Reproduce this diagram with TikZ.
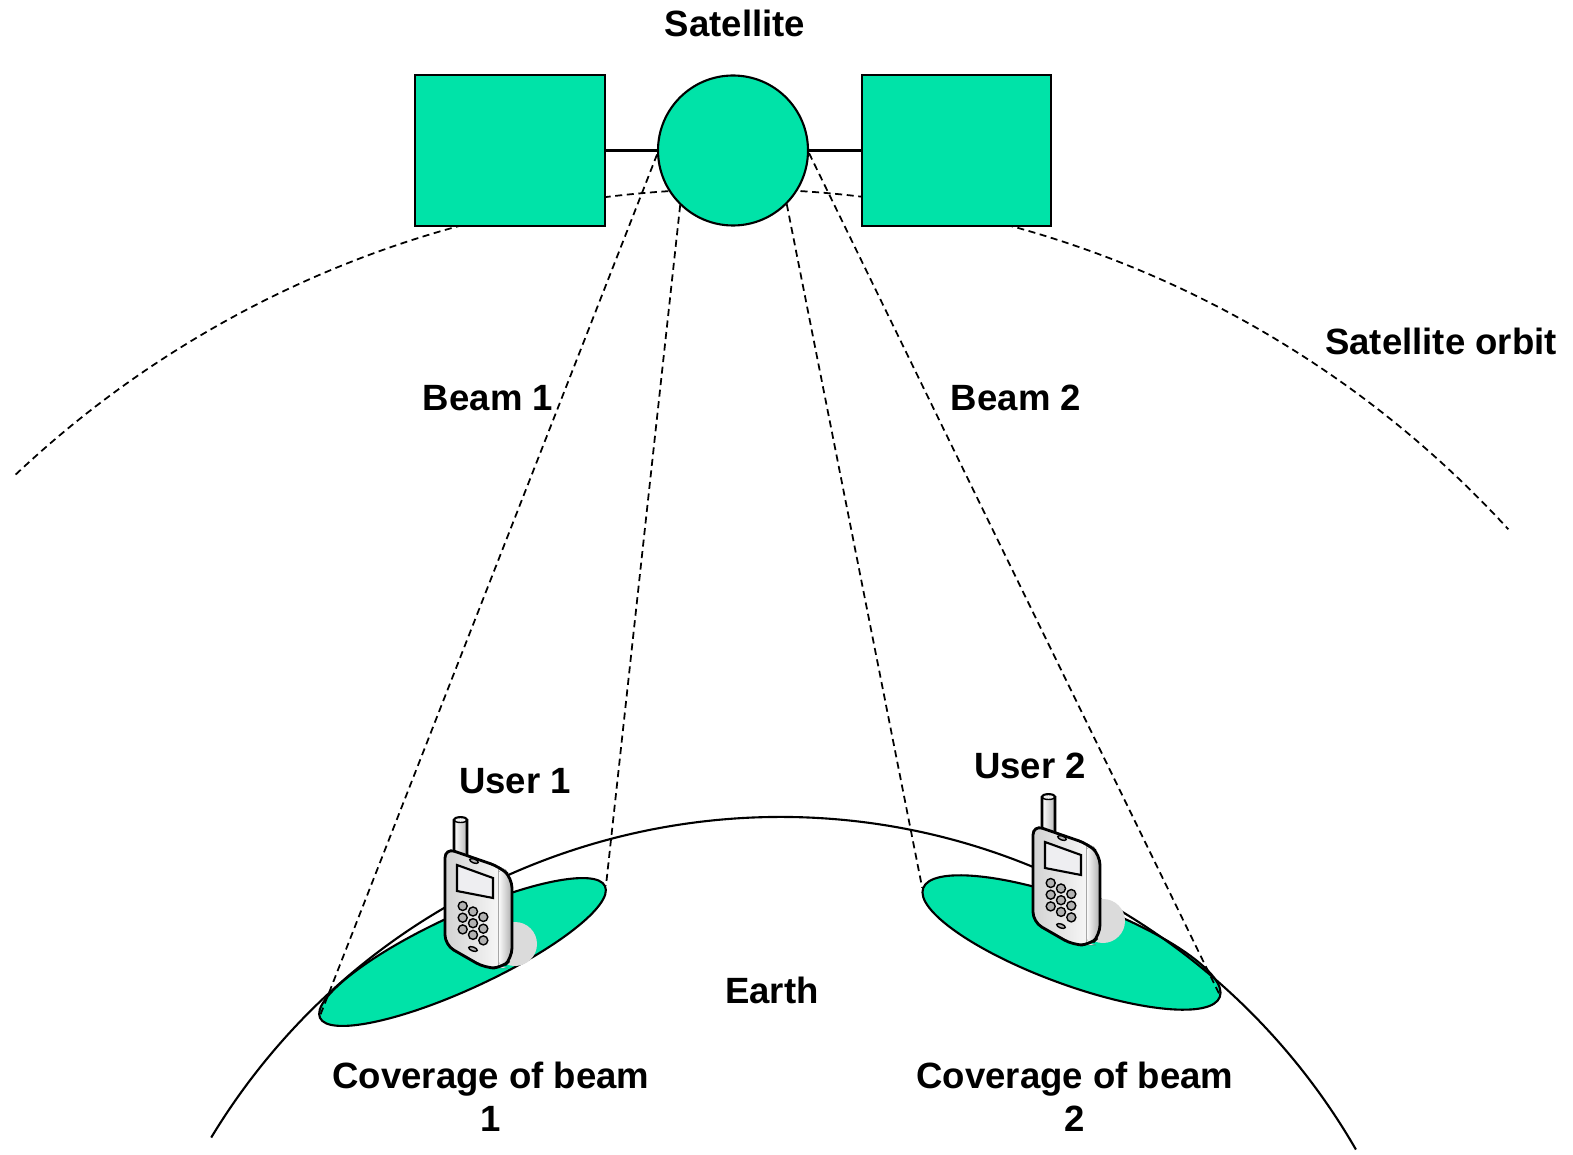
\documentclass[tikz,border=0pt]{standalone}
\usepackage{fontspec}
\setmainfont{Liberation Sans}
\usepackage{tikz}
\usetikzlibrary{
    positioning,
    shapes.geometric,
}
\definecolor{satgreen}{HTML}{00E3A8}
\tikzset{
    % Satellite parts
    panel/.style={rectangle, draw, semithick, fill=satgreen, minimum width=1.9cm,
                  minimum height=1.51cm, inner sep=0pt},
    satbody/.style={circle, draw, semithick, fill=satgreen, minimum size=1.5cm, inner sep=0pt},
    coverage/.style={ellipse, draw, semithick, fill=satgreen, inner sep=0pt},
    % Line styles
    beam line/.style={line width=0.5pt, dash pattern=on 2pt off 1.3pt},
    orbit line/.style={beam line},
    mount/.style={line width=0.9pt},
    % Labels
    lbl/.style={font=\fontsize{10.4}{12.2}\selectfont\bfseries, align=center, inner sep=0pt},
    % Handset
    phone/.pic={
        \fill[gray!28] (0.35,-0.44) circle (0.22);
        % antenna
        \draw[thick, left color=white, right color=gray!55]
            (-0.26,0.40) -- (-0.26,0.80) arc[start angle=180, end angle=0, x radius=0.065, y radius=0.025]
            -- (-0.13,0.40);
        \draw[thin, fill=gray!10] (-0.195,0.80) ellipse[x radius=0.065, y radius=0.025];
        % case
        \path[rounded corners=0.1cm, left color=gray!35, right color=white]
            (-0.35,-0.45) -- (-0.35,0.52) -- (0.20,0.33) -- (0.32,0.22) -- (0.32,-0.58)
            -- (0.22,-0.68) -- (0.05,-0.68) -- cycle;
        \fill[rounded corners=0.1cm, left color=white, right color=gray!65]
            (0.18,0.34) -- (0.20,0.33) -- (0.32,0.22) -- (0.32,-0.58) -- (0.22,-0.68) -- (0.18,-0.68) -- cycle;
        \draw[gray!70, very thin] (0.18,0.33) -- (0.18,-0.66);
        \draw[thick, rounded corners=0.1cm]
            (-0.35,-0.45) -- (-0.35,0.52) -- (0.20,0.33) -- (0.32,0.22) -- (0.32,-0.58)
            -- (0.22,-0.68) -- (0.05,-0.68) -- cycle;
        % display and keys
        \draw[semithick, fill=blue!8!gray!12] (-0.23,0.35) -- (0.13,0.22) -- (0.13,0.02) -- (-0.23,0.09) -- cycle;
        \draw[thin, fill=gray!60, rotate around={-20:(-0.06,0.39)}] (-0.06,0.39) ellipse[x radius=0.045, y radius=0.02];
        \foreach \c in {0,1,2} {
            \foreach \r in {0,1,2} {
                \draw[thin, fill=gray!60] ({-0.173+0.103*\c},{-0.06-0.055*\c-0.117*\r}) circle (0.045);
            }
        }
        \draw[thin, fill=gray!60, rotate around={-20:(-0.07,-0.49)}] (-0.07,-0.49) ellipse[x radius=0.045, y radius=0.02];
    },
}

\begin{document}
\begin{tikzpicture}
    \useasboundingbox (0,0) rectangle (15.73,-11.55);

    % Orbit
    \coordinate (orbit) at (7.35,-12.38);
    \coordinate (earth) at (7.80,-14.82);
    \draw[orbit line] (orbit) ++(133.3:10.49) arc[start angle=133.3, end angle=42.5, radius=10.49];

    % Footprints on the ground
    \node[coverage, rotate=24.8, minimum width=3.14cm, minimum height=0.74cm] (cov1) at (4.625,-9.52) {};
    \node[coverage, rotate=-20.15, minimum width=3.16cm, minimum height=0.84cm] (cov2) at (10.715,-9.425) {};

    % Earth
    \draw[semithick] (earth) ++(148.8:6.65) arc[start angle=148.8, end angle=30, radius=6.65];

    % Satellite
    \node[satbody] (sat) at (7.33,-1.505) {};
    \node[panel] (panelL) at (5.10,-1.505) {};
    \node[panel, minimum width=1.89cm] (panelR) at (9.565,-1.505) {};
    \draw[mount] (panelL) -- (sat);
    \draw[mount] (sat) -- (panelR);

    % Beams
    \draw[beam line] (sat.183.5) -- (cov1.west);
    \draw[beam line] (sat.226.7) -- (cov1.east);
    \draw[beam line] (sat.315.4) -- (cov2.west);
    \draw[beam line] (sat.358) -- (cov2.east);

    % Users
    \pic at (4.80,-9.00) {phone};
    \pic at (10.68,-8.77) {phone};

    % Labels
    \node[lbl, anchor=base] (satname) at (7.35,-0.37) {Satellite};
    \node[lbl, anchor=base] (orbitname) at (14.41,-3.55) {Satellite orbit};
    \node[lbl, anchor=base] (beam1) at (4.88,-4.11) {Beam 1};
    \node[lbl, anchor=base] (beam2) at (10.16,-4.11) {Beam 2};
    \node[lbl, anchor=base] (user1) at (5.15,-7.93) {User 1};
    \node[lbl, anchor=base] (user2) at (10.30,-7.79) {User 2};
    \node[lbl, anchor=base] (earthname) at (7.72,-10.03) {Earth};
    \node[lbl, anchor=base] (area1) at (4.91,-11.31) {Coverage of beam\\1};
    \node[lbl, anchor=base] (area2) at (10.75,-11.31) {Coverage of beam\\2};
\end{tikzpicture}
\end{document}
